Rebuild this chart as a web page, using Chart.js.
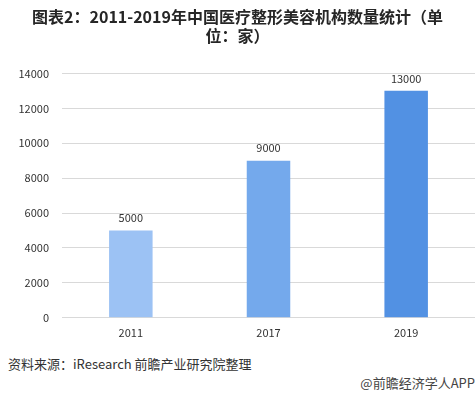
<!DOCTYPE html>
<html>
<head>
<meta charset="utf-8">
<script src="https://cdn.jsdelivr.net/npm/chart.js@4/dist/chart.umd.min.js"></script>
<style>
  html, body { margin: 0; padding: 0; background: #fff; }
  #wrap { position: relative; width: 475px; height: 397px; overflow: hidden; }
  #box { position: absolute; left: 0; top: 0; width: 475px; height: 345px; }
  .note { position: absolute; font-family: "Microsoft YaHei", "Noto Sans CJK SC", sans-serif; font-size: 13px; color: #333; white-space: nowrap; line-height: 16px; }
</style>
</head>
<body>
<div id="wrap">
  <div id="box"><canvas id="chart"></canvas></div>
  <div class="note" style="left:8px; top:356px;">资料来源：iResearch 前瞻产业研究院整理</div>
  <div class="note" style="right:0px; top:375px; color:#444;">@前瞻经济学人APP</div>
</div>
<script>
// values
const years = ["2011", "2017", "2019"];
const counts = [5000, 9000, 13000];
const barColors = ["#9cc2f4", "#74a9ec", "#5291e3"];
const titleLines = ["图表2：2011-2019年中国医疗整形美容机构数量统计（单", "位：家）"];

const fontFamily = "'Microsoft YaHei', 'Noto Sans CJK SC', sans-serif";

// draws the number above each bar
const valueLabels = {
  id: "valueLabels",
  afterDatasetsDraw(chart) {
    const ctx = chart.ctx;
    const meta = chart.getDatasetMeta(0);
    ctx.save();
    ctx.font = "11px " + fontFamily;
    ctx.fillStyle = "#333";
    ctx.textAlign = "center";
    ctx.textBaseline = "bottom";
    meta.data.forEach((bar, i) => {
      ctx.fillText(String(chart.data.datasets[0].data[i]), bar.x, bar.y - 7);
    });
    ctx.restore();
  }
};

new Chart(document.getElementById("chart"), {
  type: "bar",
  data: {
    labels: years,
    datasets: [{
      data: counts,
      backgroundColor: barColors,
      categoryPercentage: 1,
      barPercentage: 0.316
    }]
  },
  plugins: [valueLabels],
  options: {
    responsive: true,
    maintainAspectRatio: false,
    animation: false,
    layout: { padding: { left: 0, right: 0, top: 0, bottom: 6 } },
    plugins: {
      legend: { display: false },
      tooltip: { enabled: false },
      title: {
        display: true,
        text: titleLines,
        color: "#262626",
        font: { family: fontFamily, size: 16, weight: "bold", lineHeight: 1.2 },
        padding: { top: 7, bottom: 28 }
      }
    },
    scales: {
      x: {
        grid: { display: false },
        border: { color: "#d9d9d9" },
        ticks: { color: "#333", font: { family: fontFamily, size: 11 }, padding: 0 }
      },
      y: {
        min: 0,
        max: 14000,
        afterFit(scale) { scale.width = 62; },
        grid: { color: "#d9d9d9", drawTicks: false },
        border: { display: false },
        ticks: {
          stepSize: 2000,
          color: "#333",
          font: { family: fontFamily, size: 11 },
          padding: 13,
          callback: (v) => String(v)
        }
      }
    }
  }
});
</script>
</body>
</html>
